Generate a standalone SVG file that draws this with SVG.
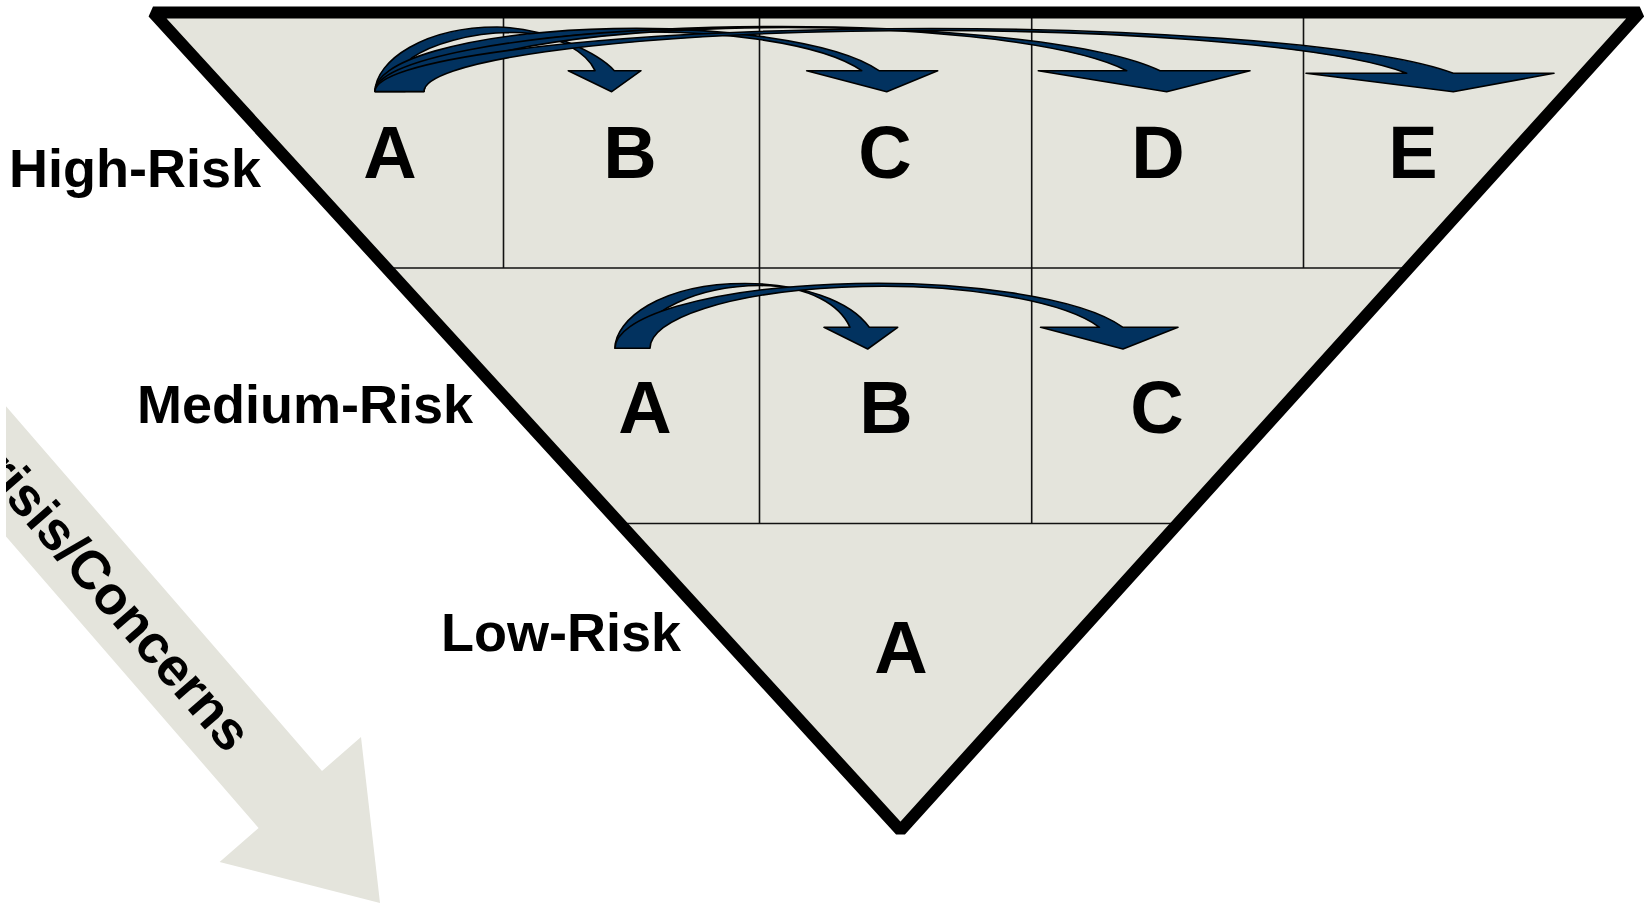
<svg xmlns="http://www.w3.org/2000/svg" width="1647" height="903" viewBox="0 0 1647 903">
<defs>
<style>
.lbl{font-family:"Liberation Sans",Arial,sans-serif;font-weight:bold;font-size:54px;fill:#000}
.cell{font-family:"Liberation Sans",Arial,sans-serif;font-weight:bold;font-size:74px;fill:#000;text-anchor:middle}
.grid{stroke:#111;stroke-width:1.6;fill:none}
.arr{fill:#02325f;stroke:#000;stroke-width:1.6;stroke-linejoin:round}
.bg{fill:#e4e4dc}
</style>
<clipPath id="clipL"><rect x="6" y="0" width="1641" height="903"/></clipPath>
</defs>
<rect width="1647" height="903" fill="#fff"/>

<g id="trend-arrow" clip-path="url(#clipL)">
<polygon class="bg" points="-333,15 322,771 361,737 380,903 219.6,862 258.6,828 -396.4,72"/>
<text class="lbl" transform="translate(226.8,754.8) rotate(49)" text-anchor="end">Crisis/Concerns</text>
</g>

<g id="pyramid">
<polygon class="bg" points="153,12.5 1639.7,12.5 900.5,830.5"/>
</g>

<g id="grid">
<line class="grid" x1="386.8" y1="268" x2="1408.2" y2="268"/>
<line class="grid" x1="620.5" y1="523.5" x2="1177.5" y2="523.5"/>
<line class="grid" x1="503.5" y1="12" x2="503.5" y2="268"/>
<line class="grid" x1="759.5" y1="12" x2="759.5" y2="523.5"/>
<line class="grid" x1="1031.7" y1="12" x2="1031.7" y2="523.5"/>
<line class="grid" x1="1303.5" y1="12" x2="1303.5" y2="268"/>
</g>

<g id="labels">
<text class="lbl" x="9" y="187">High-Risk</text>
<text class="lbl" x="137" y="423">Medium-Risk</text>
<text class="lbl" x="441" y="651">Low-Risk</text>
</g>

<g id="high-A"><text class="cell" x="390" y="178">A</text></g>
<g id="high-B"><text class="cell" x="630" y="178">B</text></g>
<g id="high-C"><text class="cell" x="885" y="178">C</text></g>
<g id="high-D"><text class="cell" x="1158" y="178">D</text></g>
<g id="high-E"><text class="cell" x="1413" y="178">E</text></g>
<g id="medium-A"><text class="cell" x="645" y="433">A</text></g>
<g id="medium-B"><text class="cell" x="886" y="433">B</text></g>
<g id="medium-C"><text class="cell" x="1157" y="433">C</text></g>
<g id="low-A"><text class="cell" x="901" y="673">A</text></g>

<g id="connectors">
<path class="arr" d="M375,91.5 C376,60 425,27 497,27 C550,28 600,55 614.3,70.7 L641,70.7 L611.7,91.7 L568.3,70.7 L595,70.7 C588,55 560,33 515,32.5 C470,32 430,45 411.7,58 C402,66 402,80 405,91.5 Z"/>
<path class="arr" d="M375,91.5 A259,62.5 0 0 1 879,70.7 L937.7,70.7 L886.7,91.7 L806.7,70.7 L861.7,70.7 A226,59.5 0 0 0 424,91.5 Z"/>
<path class="arr" d="M375,91.5 A403.1,65 0 0 1 1160,70.7 L1250,70.7 L1166.7,91.7 L1038.3,70.7 L1126.7,70.7 A361.2,64 0 0 0 424,91.5 Z"/>
<path class="arr" d="M375,91.5 A550.9,63 0 0 1 1453.3,73.3 L1554,73.3 L1453.3,91.7 L1306,73.3 L1406.7,73.3 A502.8,61 0 0 0 424,91.5 Z"/>
<path class="arr" d="M615,348.3 C615,320 660,283.5 745,283.5 C800,283.5 850,300 869.3,327.3 L897.7,327.3 L867.7,349 L824,327.3 L850,327.3 C840,305 810,286 760,285.5 C700,286 640,310 636,348.3 Z"/>
<path class="arr" d="M615,348.3 A261,65 0 0 1 1123,327.3 L1178,327.3 L1123,349 L1040.6,327.3 L1099.5,327.3 A231.6,62 0 0 0 650,348.3 Z"/>
</g>

<g id="pyramid-outline">
<polygon points="153,12.5 1639.7,12.5 900.5,830.5" fill="none" stroke="#000" stroke-width="12" stroke-linejoin="bevel"/>
</g>
</svg>
